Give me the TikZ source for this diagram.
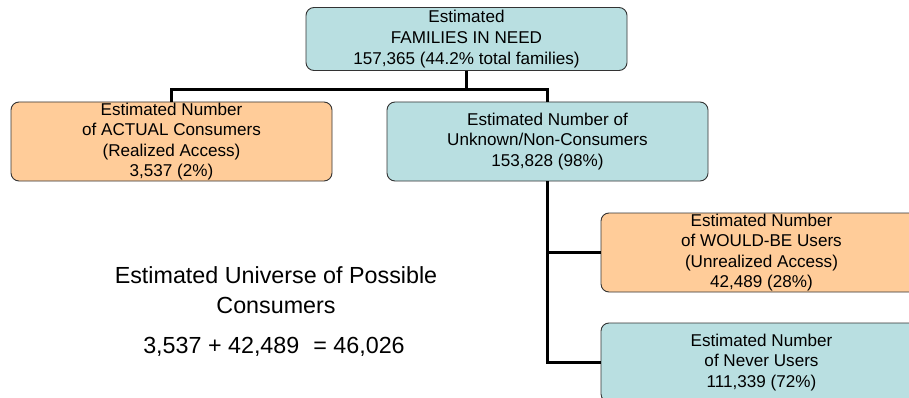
\documentclass[tikz,border=0pt]{standalone}
\usepackage{fontspec}
\setmainfont{Liberation Sans}
\definecolor{boxblue}{RGB}{185,223,225}
\definecolor{boxorange}{RGB}{255,204,153}
\begin{document}
\begin{tikzpicture}[x=1pt,y=-1pt,
  box/.style={draw=black!80, line width=0.9pt, rounded corners=8pt,
    minimum width=321pt, minimum height=79pt, inner sep=0pt, align=center,
    font=\fontsize{17.1}{20.6}\selectfont},
  bluebox/.style={box, fill=boxblue},
  orangebox/.style={box, fill=boxorange},
  conn/.style={line width=3pt, black},
  bigtext/.style={anchor=base, inner sep=0pt, font=\fontsize{23.3}{28}\selectfont}]
\useasboundingbox (0,0) rectangle (909,398);
\clip (0,0) rectangle (909,398);
\fill[white] (0,0) rectangle (909,398);

\node[bluebox, minimum height=63pt] (top) at (466.5,39) {Estimated\\FAMILIES IN NEED\\157,365 (44.2\% total families)};
\node[orangebox] (actual) at (171.5,141.5) {Estimated Number\\of ACTUAL Consumers\\(Realized Access)\\3,537 (2\%)};
\node[bluebox] (unknown) at (547.5,141.5) {Estimated Number of\\Unknown/Non-Consumers\\153,828 (98\%)};
\node[orangebox] (would) at (761.5,252.5) {Estimated Number\\of WOULD-BE Users\\(Unrealized Access)\\42,489 (28\%)};
\node[bluebox] (never) at (761.5,362.5) {Estimated Number\\of Never Users\\111,339 (72\%)};

\coordinate (split) at (466.5,90);
\draw[conn] (top.south) -- (split);
\draw[conn] (actual.north) |- (split) -| (unknown.north);
\draw[conn] (unknown.south) |- (would.west);
\draw[conn] (unknown.south) |- (never.west);

\node[bigtext] (univ1) at (276,283) {Estimated Universe of Possible};
\node[bigtext] (univ2) at (276,313) {Consumers};
\node[bigtext] (eq) at (274,353) {3,537 + 42,489\hspace{0.6em}= 46,026};
\end{tikzpicture}
\end{document}
